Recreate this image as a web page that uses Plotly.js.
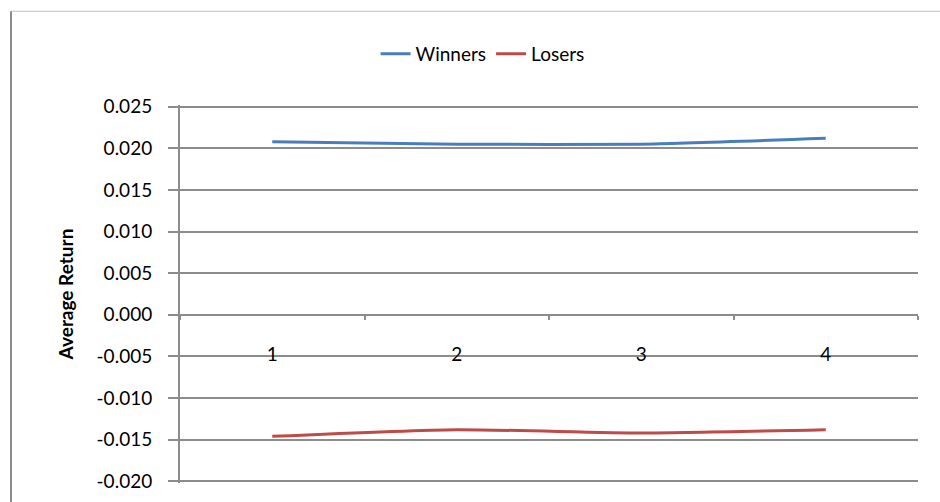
<!DOCTYPE html>
<html>
<head>
<meta charset="utf-8">
<script src="https://cdn.plot.ly/plotly-3.0.1.min.js"></script>
<style>html,body{margin:0;padding:0;background:#fff;}#chart{width:940px;height:502px;}</style>
</head>
<body>
<div id="chart"></div>
<script>
var categories = ["1", "2", "3", "4"];
var winners = [0.0208, 0.0205, 0.0205, 0.0212];
var losers = [-0.0146, -0.0138, -0.0142, -0.0138];
var yTickVals = [-0.020, -0.015, -0.010, -0.005, 0.000, 0.005, 0.010, 0.015, 0.020, 0.025];
var yTickText = ["-0.020", "-0.015", "-0.010", "-0.005", "0.000", "0.005", "0.010", "0.015", "0.020", "0.025"];

var font = "Lato, 'Open Sans', sans-serif";
var traces = [
  {x: categories, y: winners, name: "Winners", type: "scatter", mode: "lines",
   line: {color: "#4a7ebb", width: 3, shape: "spline", smoothing: 0.6}},
  {x: categories, y: losers, name: "Losers", type: "scatter", mode: "lines",
   line: {color: "#be4b48", width: 3, shape: "spline", smoothing: 0.6}}
];
var yMin = -0.0202, yMax = 0.0252;
var zeroPos = (0 - yMin) / (yMax - yMin);
var layout = {
  width: 940, height: 502,
  paper_bgcolor: "#fff", plot_bgcolor: "#fff",
  margin: {l: 180, r: 22, t: 105, b: 19},
  font: {family: font, size: 19, color: "#000"},
  showlegend: true,
  legend: {orientation: "h", x: 0.41, xanchor: "center", y: 1.135, yanchor: "middle",
    font: {family: font, size: 19, color: "#000"}, tracegroupgap: 0},
  xaxis: {type: "category", range: [-0.5, 3.5], anchor: "free", position: zeroPos,
    showgrid: false, showline: true, linecolor: "#8c8c8c", linewidth: 2,
    ticks: "outside", tickson: "boundaries", ticklen: 4, tickcolor: "#8c8c8c", tickwidth: 2,
    ticklabelstandoff: 22, tickfont: {family: font, size: 19, color: "#000"},
    zeroline: false, fixedrange: true},
  yaxis: {range: [yMin, yMax], tickvals: yTickVals, ticktext: yTickText,
    showgrid: true, gridcolor: "#8c8c8c", gridwidth: 2,
    showline: true, linecolor: "#8c8c8c", linewidth: 2,
    ticks: "outside", ticklen: 10, tickcolor: "#8c8c8c", tickwidth: 2,
    ticklabelstandoff: 12, tickfont: {family: font, size: 19, color: "#000"},
    zeroline: false,
    title: {text: "<b>Average Return</b>", font: {family: font, size: 19, color: "#000"}, standoff: 18}},
  shapes: [
    {type: "line", xref: "paper", yref: "paper", x0: -0.229, x1: 1.05, y0: 1.248, y1: 1.248,
     line: {color: "#c0c0c0", width: 1}},
    {type: "line", xref: "paper", yref: "paper", x0: -0.229, x1: -0.229, y0: 1.248, y1: -0.1,
     line: {color: "#8c8c8c", width: 2}}
  ]
};
Plotly.newPlot("chart", traces, layout, {displayModeBar: false, staticPlot: true});
</script>
</body>
</html>
